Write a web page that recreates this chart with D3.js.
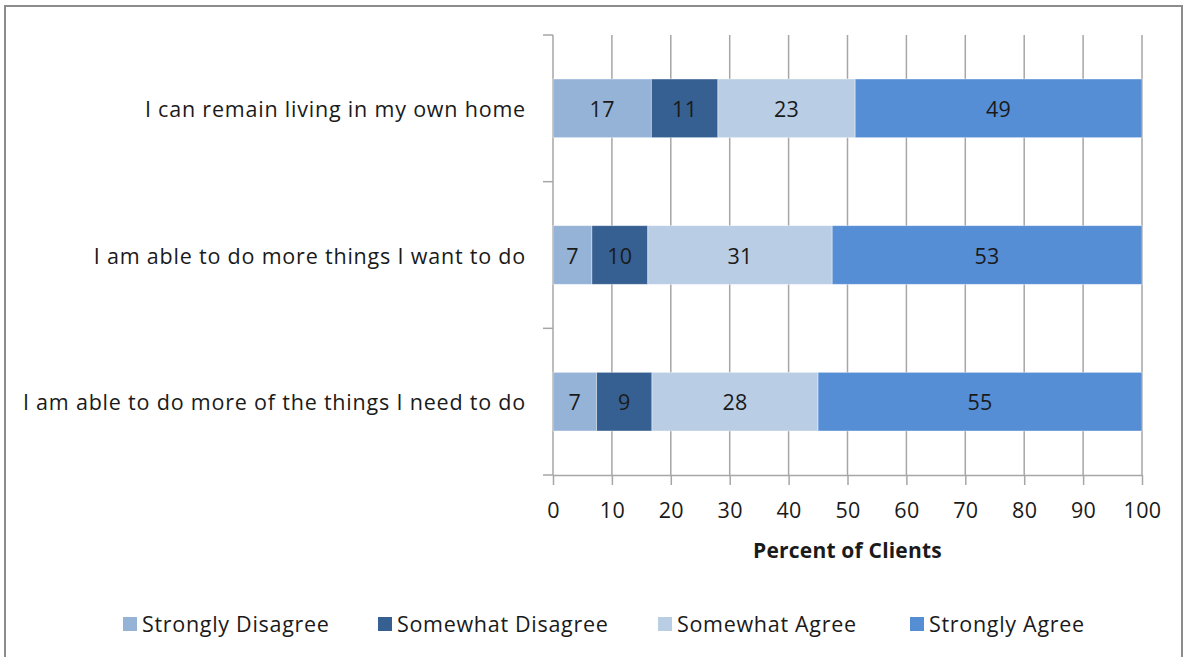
<!DOCTYPE html>
<html>
<head>
<meta charset="utf-8">
<script src="https://cdn.jsdelivr.net/npm/d3@7"></script>
<style>
  html, body { margin: 0; padding: 0; background: #fff; }
  svg { display: block; }
  text { font-family: "Open Sans", Lato, sans-serif; fill: #1a1a1a; }
</style>
</head>
<body>
<svg id="chart" width="1185" height="657"></svg>
<script>
// Survey statements, top to bottom
const statements = [
  "I can remain living in my own home",
  "I am able to do more things I want to do",
  "I am able to do more of the things I need to do"
];
// Response categories, left to right within each bar
const responses = ["Strongly Disagree", "Somewhat Disagree", "Somewhat Agree", "Strongly Agree"];
// Percent of clients per response, one array per statement
const stronglyDisagree = [16.7, 6.6, 7.4];
const somewhatDisagree = [11.3, 9.5, 9.4];
const somewhatAgree    = [23.3, 31.3, 28.2];
const stronglyAgree    = [48.7, 52.6, 55.0];
const xTicks = [0, 10, 20, 30, 40, 50, 60, 70, 80, 90, 100];
const colors = ["#95b3d7", "#376092", "#b9cde5", "#558ed5"];

const FONT = "'Open Sans', Lato, sans-serif";
const FS = 21.5;

const rows = statements.map((s, i) => ({
  statement: s,
  "Strongly Disagree": stronglyDisagree[i],
  "Somewhat Disagree": somewhatDisagree[i],
  "Somewhat Agree": somewhatAgree[i],
  "Strongly Agree": stronglyAgree[i]
}));

const svg = d3.select("#chart");

// outer frame
svg.append("rect")
  .attr("x", 5).attr("y", 6).attr("width", 1177).attr("height", 700)
  .attr("fill", "none").attr("stroke", "#8c8c8c").attr("stroke-width", 2);

const x = d3.scaleLinear().domain([0, 100]).range([553, 1142]);
const y = d3.scaleBand().domain(statements).range([35, 475])
  .paddingInner(0.6).paddingOuter(0.3);
const color = d3.scaleOrdinal().domain(responses).range(colors);

// vertical gridlines
svg.append("g").selectAll("line").data(xTicks.slice(1)).join("line")
  .attr("x1", d => x(d)).attr("x2", d => x(d))
  .attr("y1", 35).attr("y2", 475)
  .attr("stroke", "#a6a6a6").attr("stroke-width", 1.5);

// x axis
const xAxis = svg.append("g").attr("transform", "translate(0,475)")
  .call(d3.axisBottom(x).tickValues(xTicks).tickSize(10).tickPadding(18).tickSizeOuter(0));
xAxis.select(".domain").attr("stroke", "#a6a6a6").attr("stroke-width", 1.5);
xAxis.selectAll(".tick line").attr("stroke", "#a6a6a6").attr("stroke-width", 1.5);
xAxis.selectAll(".tick text").attr("font-size", FS).attr("font-family", FONT)
  .attr("fill", "#1a1a1a").attr("letter-spacing", 0.3);

// y axis line with ticks at band boundaries
const step = y.step();
const yStart = y.range()[0];
const boundaries = d3.range(statements.length + 1).map(i => yStart + i * step);
svg.append("line")
  .attr("x1", x(0)).attr("x2", x(0)).attr("y1", yStart).attr("y2", 475)
  .attr("stroke", "#a6a6a6").attr("stroke-width", 1.5);
svg.append("g").selectAll("line").data(boundaries).join("line")
  .attr("x1", x(0) - 10).attr("x2", x(0))
  .attr("y1", d => d).attr("y2", d => d)
  .attr("stroke", "#a6a6a6").attr("stroke-width", 1.5);

// category labels
svg.append("g").selectAll("text").data(statements).join("text")
  .attr("x", 526).attr("y", d => y(d) + y.bandwidth() / 2)
  .attr("text-anchor", "end").attr("dominant-baseline", "central")
  .attr("font-size", FS).attr("letter-spacing", 0.8)
  .text(d => d);

// stacked bars
const stack = d3.stack().keys(responses)(rows);
const layers = svg.append("g").selectAll("g").data(stack).join("g")
  .attr("fill", d => color(d.key));
layers.selectAll("rect").data(d => d).join("rect")
  .attr("x", d => x(d[0]))
  .attr("y", d => y(d.data.statement))
  .attr("width", d => x(d[1]) - x(d[0]))
  .attr("height", y.bandwidth())
  .attr("stroke", "#ffffff").attr("stroke-opacity", 0.5).attr("stroke-width", 0.8);

// value labels
layers.selectAll("text").data(d => d).join("text")
  .attr("x", d => (x(d[0]) + x(d[1])) / 2)
  .attr("y", d => y(d.data.statement) + y.bandwidth() / 2)
  .attr("text-anchor", "middle").attr("dominant-baseline", "central")
  .attr("font-size", FS).attr("letter-spacing", 0.3)
  .text(d => Math.round(d[1] - d[0]));

// x axis title
svg.append("text")
  .attr("x", (x(0) + x(100)) / 2).attr("y", 550)
  .attr("text-anchor", "middle").attr("dominant-baseline", "central")
  .attr("font-size", 21).attr("font-weight", "bold").attr("letter-spacing", 0.2)
  .text("Percent of Clients");

// legend
const legendX = [123, 378, 658, 910];
const legend = svg.append("g").selectAll("g").data(responses).join("g")
  .attr("transform", (d, i) => `translate(${legendX[i]},624)`);
legend.append("rect")
  .attr("x", 0).attr("y", -7).attr("width", 14).attr("height", 14)
  .attr("fill", d => color(d));
legend.append("text")
  .attr("x", 19).attr("y", -1).attr("dominant-baseline", "central")
  .attr("font-size", FS).attr("letter-spacing", 0.7)
  .text(d => d);
</script>
</body>
</html>
